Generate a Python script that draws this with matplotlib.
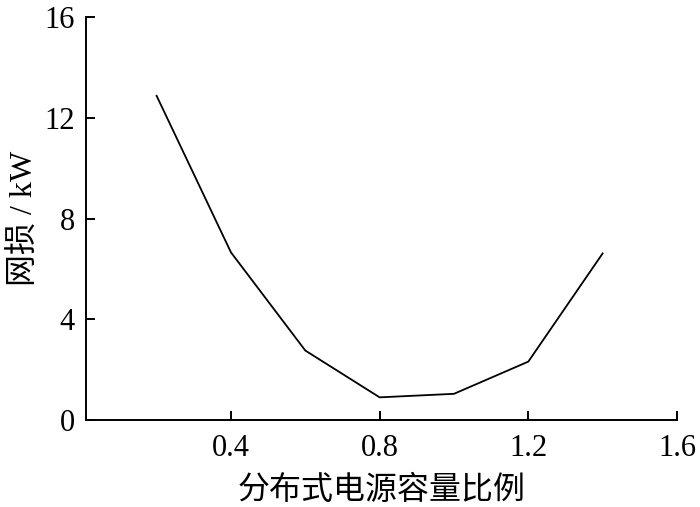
import matplotlib
matplotlib.use("Agg")
import matplotlib.pyplot as plt

ratio = [0.2, 0.4, 0.6, 0.8, 1.0, 1.2, 1.4]
loss_kw = [12.88, 6.66, 2.76, 0.9, 1.04, 2.32, 6.62]
xticks = [0.4, 0.8, 1.2, 1.6]
yticks = [0, 4, 8, 12, 16]

plt.rcParams['font.family'] = ['Liberation Serif', 'Noto Sans CJK SC']

fig = plt.figure(figsize=(7.0, 5.07), dpi=100)
ax = fig.add_axes([86 / 700, 1 - 420 / 507, (677 - 86) / 700, (420 - 17.3) / 507])
ax.plot(ratio, loss_kw, color='black', lw=1.3)
ax.set_xlim(0.01, 1.6)
ax.set_ylim(0, 16)
ax.set_xticks(xticks)
ax.set_xticklabels(['0.4', '0.8', '1.2', '1.6'])
ax.set_yticks(yticks)
ax.set_yticklabels([str(v) for v in yticks])
ax.spines['top'].set_visible(False)
ax.spines['right'].set_visible(False)
for s in ('left', 'bottom'):
    ax.spines[s].set_linewidth(1.4)
ax.tick_params(direction='in', length=6.5, width=1.4, labelsize=22, pad=8)
ax.tick_params(axis='x', pad=10)
ax.set_xlabel('分布式电源容量比例', fontsize=23, family=['Noto Sans CJK SC'], labelpad=8)
ax.set_ylabel('网损 / kW', fontsize=23, family=['Liberation Serif', 'Noto Sans CJK SC'], labelpad=4)
fig.savefig('out.png', dpi=100)
